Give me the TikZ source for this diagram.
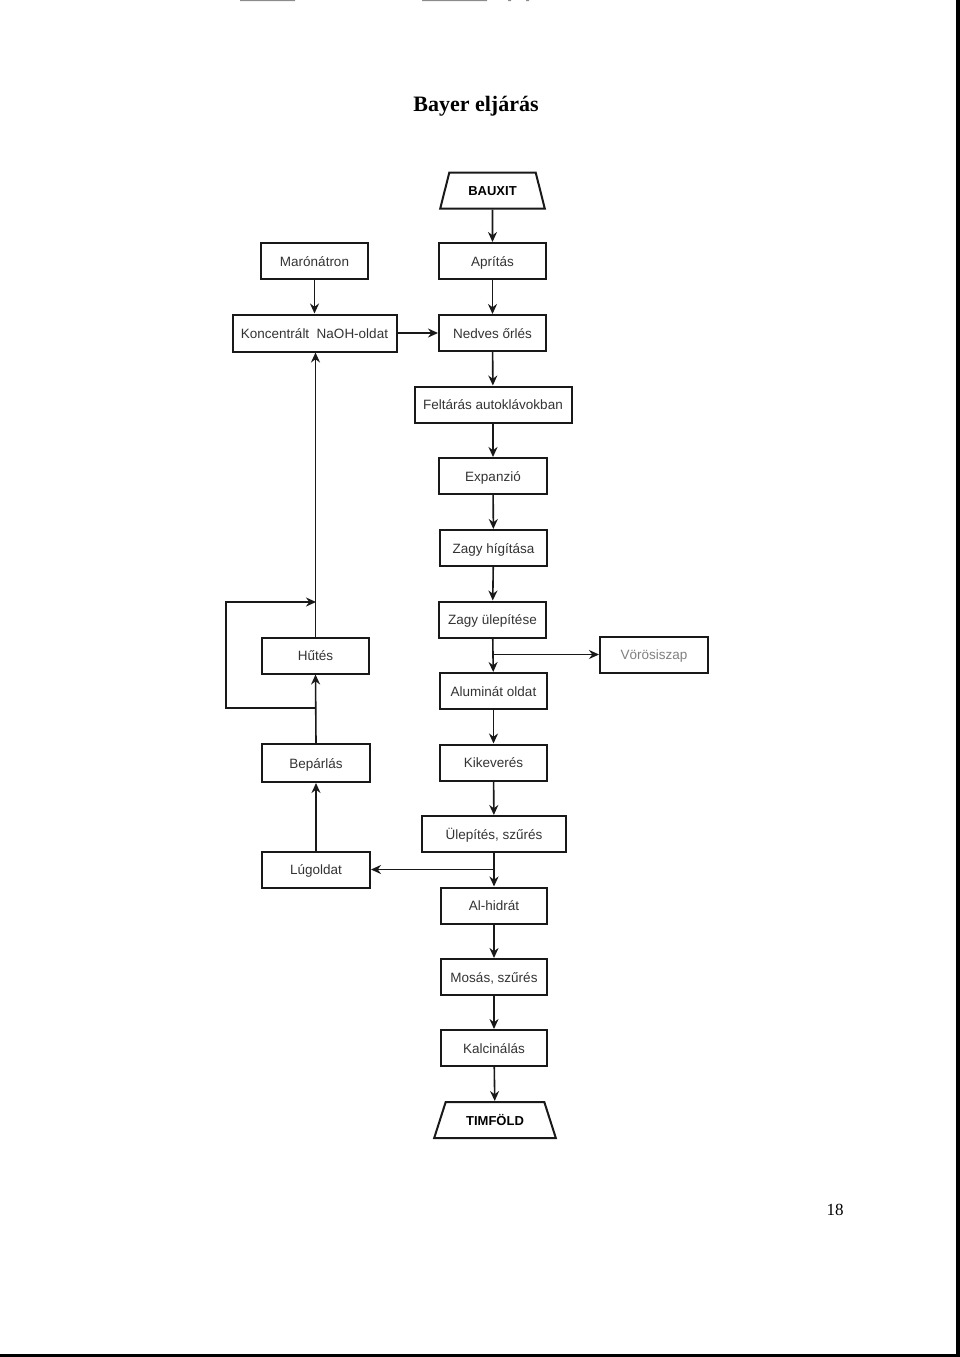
\documentclass[tikz,border=0pt]{standalone}
\usepackage{fontspec}
\setmainfont{Liberation Serif}
\newfontfamily\boxfont{Liberation Sans}
\usetikzlibrary{arrows.meta,shapes.geometric}
\begin{document}
\begin{tikzpicture}[x=1pt,y=-1pt,font=\boxfont\fontsize{13.5}{15}\selectfont,
  box/.style={draw=black!90,line width=2pt,minimum width=#1,minimum height=36pt,inner sep=0pt,text=black!80,
    text height=11pt,text depth=1pt},
  box/.default=107pt,
  trap/.style={draw=black!90,line width=2pt,trapezium,trapezium stretches=true,
    trapezium left angle=#1,trapezium right angle=#1,minimum height=36pt,inner sep=0pt,
    text height=10pt,text depth=0pt,font=\boxfont\bfseries\fontsize{13}{15}\selectfont},
  arr/.style={line width=1.6pt,draw=black!90,-{Stealth[length=10pt,width=9pt]}}]
\useasboundingbox (0,0) rectangle (960,1357);
% scan border
\fill[black] (956,0) rectangle (960,1357);
\fill[black] (0,1354) rectangle (960,1357);
\fill[black!45] (240,0) rectangle (295,1.2) (422,0) rectangle (487,1.2) (508,0) rectangle (511,1) (526,0) rectangle (529,1);
% title and page number
\node[font=\rmfamily\bfseries\fontsize{22}{26}\selectfont] (title) at (476,106) {Bayer eljárás};
\node[font=\rmfamily\fontsize{17}{20}\selectfont] (page) at (835,1210) {18};
% main column
\node[trap=63,minimum width=105pt] (bauxit) at (492.5,190.5) {BAUXIT};
\node[box] (apr) at (492.5,261) {Aprítás};
\node[box] (nedv) at (492.5,333) {Nedves őrlés};
\node[box=157pt] (feltar) at (493,404.5) {Feltárás autoklávokban};
\node[box=108pt] (exp) at (493,476) {Expanzió};
\node[box] (hig) at (493.5,548) {Zagy hígítása};
\node[box] (zule) at (492.5,619.5) {Zagy ülepítése};
\node[box] (alum) at (493.5,691) {Aluminát oldat};
\node[box] (kik) at (493.5,762.5) {Kikeverés};
\node[box=144pt] (ulep) at (494,834) {Ülepítés, szűrés};
\node[box=106pt] (alh) at (494,905.5) {Al-hidrát};
\node[box=106pt] (mos) at (494,977) {Mosás, szűrés};
\node[box=106pt] (kalc) at (494,1048) {Kalcinálás};
\node[trap=56,minimum width=122pt] (timf) at (495,1120) {TIMFÖLD};
% side boxes
\node[box] (maro) at (314.5,261) {Marónátron};
\node[box=164pt,minimum height=37pt] (konc) at (314.5,333) {Koncentrált\ \ NaOH-oldat};
\node[box] (hutes) at (315.5,655.5) {Hűtés};
\node[box=108pt,text=black!50] (voros) at (654,654.5) {Vörösiszap};
\node[box=108pt,minimum height=38pt] (bep) at (316,763) {Bepárlás};
\node[box=108pt] (lug) at (316,869.5) {Lúgoldat};
% connectors
\foreach \a/\b in {bauxit/apr,apr/nedv,nedv/feltar,feltar/exp,exp/hig,hig/zule,zule/alum,
  alum/kik,kik/ulep,ulep/alh,alh/mos,mos/kalc,kalc/timf}
  \draw[arr] (\a) -- (\b);
\draw[arr] (maro) -- (konc);
\draw[arr] (konc) -- (nedv);
\coordinate (vj) at (zule.south |- voros.west);
\draw[arr] (vj) -- (voros.west);
\coordinate (uj) at (ulep.south |- lug.east);
\draw[arr] (uj) -- (lug.east);
\draw[arr] (lug.north) -- (bep.south);
\draw[arr] (bep.north) -- (hutes.south);
\draw[arr] (hutes.north) -- (hutes.north |- konc.south);
% bypass round Hutes
\coordinate (lb) at (316,708);
\coordinate (lt) at (316,602);
\draw[arr] (lb) -- (226,708) |- (lt);
\end{tikzpicture}
\end{document}
